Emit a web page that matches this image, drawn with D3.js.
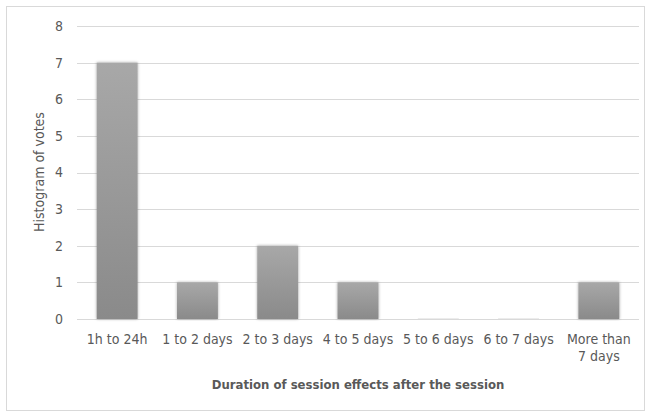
<!DOCTYPE html>
<html>
<head>
<meta charset="utf-8">
<script src="https://cdn.jsdelivr.net/npm/d3@7"></script>
<style>
  body { margin: 0; background: #fff; }
  text { font-family: "Liberation Sans Narrow", "DejaVu Sans Condensed", "Open Sans", sans-serif; }
</style>
</head>
<body>
<script>
// categories and vote counts
const categories = ["1h to 24h", "1 to 2 days", "2 to 3 days", "4 to 5 days", "5 to 6 days", "6 to 7 days", "More than 7 days"];
const votes = [7, 1, 2, 1, 0, 0, 1];
const yTicks = [0, 1, 2, 3, 4, 5, 6, 7, 8];

const w = 651, h = 418;
const plotLeft = 77, plotRight = 639, plotTop = 26, plotBottom = 319;

const svg = d3.select("body").append("svg")
  .attr("width", w)
  .attr("height", h);

const defs = svg.append("defs");
const grad = defs.append("linearGradient")
  .attr("id", "barGrad")
  .attr("x1", 0).attr("y1", 0).attr("x2", 0).attr("y2", 1);
grad.append("stop").attr("offset", "0%").attr("stop-color", "#a8a8a8");
grad.append("stop").attr("offset", "100%").attr("stop-color", "#8a8a8a");

const shadow = defs.append("filter").attr("id", "shadow")
  .attr("x", "-20%").attr("y", "-5%").attr("width", "140%").attr("height", "110%");
shadow.append("feGaussianBlur").attr("in", "SourceAlpha").attr("stdDeviation", 1.5).attr("result", "b");
shadow.append("feComponentTransfer").attr("in", "b").attr("result", "s")
  .append("feFuncA").attr("type", "linear").attr("slope", 0.35);
const merge = shadow.append("feMerge");
merge.append("feMergeNode").attr("in", "s");
merge.append("feMergeNode").attr("in", "SourceGraphic");

// outer frame
svg.append("rect")
  .attr("x", 6.5).attr("y", 6.5)
  .attr("width", 638).attr("height", 404)
  .attr("fill", "#fff")
  .attr("stroke", "#d9d9d9");

const x = d3.scaleBand()
  .domain(categories)
  .range([plotLeft, plotRight])
  .paddingInner(0.49)
  .paddingOuter(0.245);

const y = d3.scaleLinear()
  .domain([0, 8])
  .range([plotBottom, plotTop]);

// gridlines
svg.append("g")
  .selectAll("line")
  .data(yTicks)
  .enter()
  .append("line")
  .attr("x1", plotLeft).attr("x2", plotRight)
  .attr("y1", d => Math.round(y(d)) + 0.5)
  .attr("y2", d => Math.round(y(d)) + 0.5)
  .attr("stroke", "#d9d9d9");

// y tick labels
const yAxis = d3.axisLeft(y).tickValues(yTicks).tickSize(0).tickPadding(0);
const gy = svg.append("g")
  .attr("transform", "translate(" + (plotLeft - 18) + ",0)")
  .call(yAxis);
gy.select(".domain").remove();
gy.selectAll("text")
  .attr("fill", "#595959")
  .attr("font-size", 14)
  .attr("text-anchor", "middle");

// bars (zero values show only a faint sliver)
svg.append("g")
  .selectAll("rect")
  .data(votes)
  .enter()
  .append("rect")
  .attr("x", (d, i) => x(categories[i]))
  .attr("y", d => d > 0 ? y(d) : plotBottom - 1)
  .attr("width", x.bandwidth())
  .attr("height", d => d > 0 ? plotBottom - y(d) : 1)
  .attr("fill", d => d > 0 ? "url(#barGrad)" : "#ececec")
  .attr("filter", d => d > 0 ? "url(#shadow)" : null);

// x axis labels
const xAxis = d3.axisBottom(x).tickSize(0).tickPadding(0);
const gx = svg.append("g")
  .attr("transform", "translate(0," + (plotBottom + 15) + ")")
  .call(xAxis);
gx.select(".domain").remove();
gx.selectAll("text")
  .attr("fill", "#595959")
  .attr("font-size", 14)
  .attr("dy", "0.71em")
  .each(function (d) {
    if (d === "More than 7 days") {
      const t = d3.select(this).text(null);
      t.append("tspan").attr("x", 0).attr("dy", "0.71em").text("More than");
      t.append("tspan").attr("x", 0).attr("dy", "1.2em").text("7 days");
    }
  });

// axis titles
svg.append("text")
  .attr("x", 358).attr("y", 389)
  .attr("text-anchor", "middle")
  .attr("font-size", 13)
  .attr("font-weight", "bold")
  .attr("fill", "#595959")
  .text("Duration of session effects after the session");

svg.append("text")
  .attr("transform", "translate(44," + 172 + ") rotate(-90)")
  .attr("text-anchor", "middle")
  .attr("font-size", 14)
  .attr("fill", "#595959")
  .text("Histogram of votes");
</script>
</body>
</html>
